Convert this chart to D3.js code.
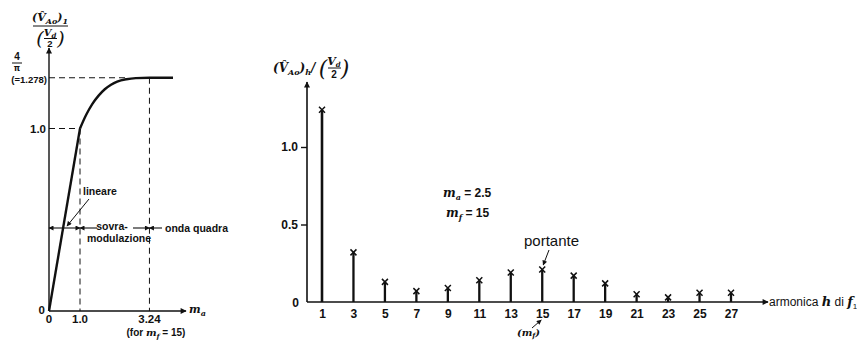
<!DOCTYPE html>
<html>
<head>
<meta charset="utf-8">
<script src="https://cdn.jsdelivr.net/npm/d3@7"></script>
<style>
  body { margin: 0; background: #fff; }
  text { fill: #111; }
  .num { font-family: "Liberation Sans", Arial, sans-serif; font-size: 11.5px; font-weight: bold; }
  .math { font-family: "DejaVu Serif", "Liberation Serif", serif; font-style: italic; font-weight: bold; }
  .lab { font-family: "Liberation Sans", Arial, sans-serif; font-size: 10.5px; font-weight: bold; }
</style>
</head>
<body>
<svg id="chart" width="857" height="340"></svg>
<script>
// left panel: fundamental vs modulation index
var maLinear = [0, 1.0];
var vLinear = [0, 1.0];
var maSat = [1.0, 1.2, 1.4, 1.6, 1.8, 2.0, 2.2, 2.5, 2.8, 3.24, 4.0];
var vSat = [1.0, 1.075, 1.135, 1.18, 1.215, 1.24, 1.257, 1.27, 1.276, 1.278, 1.278];
var maTicks = ["0", "1.0", "3.24"];
var maTickVals = [0, 1.0, 3.24];

// right panel: harmonic spectrum, ma = 2.5, mf = 15
var harmonics = [1, 3, 5, 7, 9, 11, 13, 15, 17, 19, 21, 23, 25, 27];
var amplitudes = [1.24, 0.32, 0.13, 0.07, 0.09, 0.14, 0.19, 0.21, 0.17, 0.12, 0.05, 0.03, 0.06, 0.06];
var yTicks = [0.5, 1.0];

var svg = d3.select("#chart");

var defs = svg.append("defs");
defs.append("marker").attr("id", "arr").attr("viewBox", "0 0 10 10")
  .attr("refX", 9).attr("refY", 5).attr("markerWidth", 7).attr("markerHeight", 6)
  .attr("orient", "auto-start-reverse").attr("markerUnits", "userSpaceOnUse")
  .append("path").attr("d", "M0,0 L10,5 L0,10 z").attr("fill", "#111");
defs.append("marker").attr("id", "arrs").attr("viewBox", "0 0 10 10")
  .attr("refX", 9).attr("refY", 5).attr("markerWidth", 6).attr("markerHeight", 5)
  .attr("orient", "auto-start-reverse").attr("markerUnits", "userSpaceOnUse")
  .append("path").attr("d", "M0,0 L10,5 L0,10 z").attr("fill", "#111");

// ---------- LEFT PANEL ----------
var xL = d3.scaleLinear().domain([0, 1]).range([49, 80]);
var yL = d3.scaleLinear().domain([0, 1]).range([311, 128.5]);
var L = svg.append("g");

// axes
L.append("line").attr("x1", xL(0)).attr("y1", yL(0)).attr("x2", xL(0)).attr("y2", 48)
  .attr("stroke", "#111").attr("stroke-width", 1.4).attr("marker-end", "url(#arr)");
L.append("line").attr("x1", xL(0)).attr("y1", yL(0)).attr("x2", 186).attr("y2", yL(0))
  .attr("stroke", "#111").attr("stroke-width", 1.4).attr("marker-end", "url(#arr)");

// dashed guides
var dash = function (x1, y1, x2, y2) {
  L.append("line").attr("x1", x1).attr("y1", y1).attr("x2", x2).attr("y2", y2)
    .attr("stroke", "#111").attr("stroke-width", 1).attr("stroke-dasharray", "6,4");
};
dash(xL(0), yL(1.0), xL(1.0), yL(1.0));
dash(xL(1.0), yL(1.0), xL(1.0), yL(0));
dash(xL(0), yL(1.278), xL(2.5), yL(1.278));
dash(xL(3.24), yL(1.278), xL(3.24), yL(0));

// curve
var lineL = d3.line().x(function (d) { return xL(d[0]); }).y(function (d) { return yL(d[1]); });
L.append("path").datum(d3.zip(maLinear, vLinear)).attr("d", lineL)
  .attr("fill", "none").attr("stroke", "#111").attr("stroke-width", 2.4);
L.append("path").datum(d3.zip(maSat, vSat)).attr("d", lineL.curve(d3.curveMonotoneX))
  .attr("fill", "none").attr("stroke", "#111").attr("stroke-width", 2.4);

// x tick labels
L.selectAll(".xt").data(maTickVals).enter().append("text").attr("class", "num")
  .attr("x", function (d) { return xL(d); }).attr("y", 323).attr("text-anchor", "middle")
  .text(function (d, i) { return maTicks[i]; });
L.append("text").attr("class", "num").attr("x", 45).attr("y", 314).attr("text-anchor", "end").text("0");
L.append("text").attr("class", "num").attr("x", 46).attr("y", yL(1.0) + 4).attr("text-anchor", "end").text("1.0");
L.append("text").attr("class", "num").attr("x", 47).attr("y", 83).attr("text-anchor", "end")
  .style("font-size", "9.5px").text("(=1.278)");
L.append("text").attr("class", "num").attr("x", 17).attr("y", 60).attr("text-anchor", "middle").style("font-size", "10px").text("4");
L.append("line").attr("x1", 12).attr("x2", 22).attr("y1", 63).attr("y2", 63).attr("stroke", "#111");
L.append("text").attr("x", 17).attr("y", 71).attr("text-anchor", "middle")
  .style("font-family", "DejaVu Sans, sans-serif").style("font-size", "8px").style("font-weight", "bold").text("π");
L.append("text").attr("class", "math").attr("x", 189).attr("y", 313).style("font-size", "11px")
  .html("m<tspan dy='3' font-size='8px'>a</tspan>");
var fm = L.append("text").attr("class", "num").attr("x", 156).attr("y", 336).attr("text-anchor", "middle").style("font-size", "10px");
fm.append("tspan").text("(for ");
fm.append("tspan").attr("class", "math").text("m");
fm.append("tspan").attr("class", "math").attr("dy", 3).style("font-size", "7px").text("f");
fm.append("tspan").attr("dy", -3).text(" = 15)");

// y label fraction
var yl = L.append("text").attr("class", "math").attr("x", 50).attr("y", 21).attr("text-anchor", "middle").style("font-size", "11px");
yl.append("tspan").text("(V\u0302");
yl.append("tspan").attr("dy", 3).style("font-size", "8px").text("Ao");
yl.append("tspan").attr("dy", -3).text(")");
yl.append("tspan").attr("dy", 3).style("font-size", "8px").text("1");
L.append("line").attr("x1", 33).attr("x2", 68).attr("y1", 26).attr("y2", 26).attr("stroke", "#111");
L.append("text").attr("class", "math").attr("x", 40).attr("y", 45).attr("text-anchor", "middle").style("font-size", "19px").style("font-weight", "normal").text("(");
L.append("text").attr("class", "math").attr("x", 61).attr("y", 45).attr("text-anchor", "middle").style("font-size", "19px").style("font-weight", "normal").text(")");
L.append("text").attr("class", "math").attr("x", 50).attr("y", 36).attr("text-anchor", "middle").style("font-size", "10px")
  .html("V<tspan dy='2' font-size='7px'>d</tspan>");
L.append("line").attr("x1", 44).attr("x2", 57).attr("y1", 38.5).attr("y2", 38.5).attr("stroke", "#111");
L.append("text").attr("class", "num").attr("x", 50).attr("y", 47).attr("text-anchor", "middle").style("font-size", "9.5px").text("2");

// region arrows
var ry = 228;
var seg = function (x1, x2, ms, me) {
  var l = L.append("line").attr("x1", x1).attr("x2", x2).attr("y1", ry).attr("y2", ry)
    .attr("stroke", "#111").attr("stroke-width", 1.1);
  if (ms) l.attr("marker-start", "url(#arrs)");
  if (me) l.attr("marker-end", "url(#arrs)");
};
seg(xL(0), xL(1.0), true, true);
seg(xL(1.0), 97, true, false);
seg(133, xL(3.24), false, true);
seg(xL(3.24), 162, true, false);
L.append("text").attr("class", "lab").attr("x", 112).attr("y", 230).attr("text-anchor", "middle").text("sovra-");
L.append("text").attr("class", "lab").attr("x", 119).attr("y", 242).attr("text-anchor", "middle").text("modulazione");
L.append("text").attr("class", "lab").attr("x", 165).attr("y", 232).text("onda quadra");
L.append("text").attr("class", "lab").attr("x", 83).attr("y", 195).text("lineare");
L.append("line").attr("x1", 89).attr("y1", 199).attr("x2", 67).attr("y2", 226)
  .attr("stroke", "#111").attr("stroke-width", 1).attr("marker-end", "url(#arrs)");

// ---------- RIGHT PANEL ----------
var xR = d3.scaleLinear().domain([1, 27]).range([322, 731]);
var yR = d3.scaleLinear().domain([0, 1]).range([302, 147]);
var R = svg.append("g");

R.append("line").attr("x1", 307).attr("y1", yR(0)).attr("x2", 307).attr("y2", 82)
  .attr("stroke", "#111").attr("stroke-width", 1.6).attr("marker-end", "url(#arr)");
R.append("line").attr("x1", 307).attr("y1", yR(0)).attr("x2", 768).attr("y2", yR(0))
  .attr("stroke", "#111").attr("stroke-width", 1.6).attr("marker-end", "url(#arr)");

var yAxis = R.append("g").attr("transform", "translate(307,0)")
  .call(d3.axisLeft(yR).tickValues(yTicks).tickSize(6).tickFormat(d3.format(".1f")));
yAxis.select(".domain").remove();
yAxis.selectAll("line").attr("stroke", "#111").attr("stroke-width", 1.4);
yAxis.selectAll("text").attr("class", "num").style("font-size", "12px").attr("fill", "#111");
R.append("text").attr("class", "num").attr("x", 299).attr("y", 307).attr("text-anchor", "end").style("font-size", "12px").text("0");

var xAxis = R.append("g").attr("transform", "translate(0," + yR(0) + ")")
  .call(d3.axisBottom(xR).tickValues(harmonics).tickSize(0).tickPadding(7));
xAxis.select(".domain").remove();
xAxis.selectAll("text").attr("class", "num").style("font-size", "12px").attr("fill", "#111");

// stems
R.selectAll(".stem").data(harmonics).enter().append("line").attr("class", "stem")
  .attr("x1", function (d) { return xR(d); }).attr("x2", function (d) { return xR(d); })
  .attr("y1", yR(0)).attr("y2", function (d, i) { return yR(amplitudes[i]); })
  .attr("stroke", "#111").attr("stroke-width", function (d, i) { return i === 0 ? 2.6 : 2.3; });
// x markers
R.selectAll(".mk").data(harmonics).enter().append("path").attr("class", "mk")
  .attr("transform", function (d, i) { return "translate(" + xR(d) + "," + yR(amplitudes[i]) + ")"; })
  .attr("d", "M-3,-3 L3,3 M3,-3 L-3,3").attr("stroke", "#111").attr("stroke-width", 1.5);

// labels
var ma = R.append("text").attr("class", "math").attr("x", 443).attr("y", 197).style("font-size", "12px");
ma.append("tspan").text("m");
ma.append("tspan").attr("dy", 3).style("font-size", "8px").text("a");
ma.append("tspan").attr("dy", -3).attr("class", "num").style("font-size", "12px").style("font-style", "normal").text(" = 2.5");
var mf = R.append("text").attr("class", "math").attr("x", 446).attr("y", 217).style("font-size", "12px");
mf.append("tspan").text("m");
mf.append("tspan").attr("dy", 3).style("font-size", "8px").text("f");
mf.append("tspan").attr("dy", -3).attr("class", "num").style("font-size", "12px").style("font-style", "normal").text(" = 15");

R.append("text").attr("x", 524).attr("y", 246).style("font-family", "Liberation Sans, Arial, sans-serif")
  .style("font-size", "15px").text("portante");
R.append("line").attr("x1", 549).attr("y1", 250).attr("x2", xR(15) + 1).attr("y2", 265)
  .attr("stroke", "#111").attr("stroke-width", 1).attr("marker-end", "url(#arrs)");

var mfl = R.append("text").attr("class", "math").attr("x", 517).attr("y", 336).style("font-size", "10px");
mfl.append("tspan").text("(m");
mfl.append("tspan").attr("dy", 2).style("font-size", "7px").text("f");
mfl.append("tspan").attr("dy", -2).text(")");
R.append("line").attr("x1", 532).attr("y1", 328).attr("x2", xR(15) - 1).attr("y2", 320)
  .attr("stroke", "#111").attr("stroke-width", 1).attr("marker-end", "url(#arrs)");

var ah = R.append("text").attr("x", 769).attr("y", 306).style("font-family", "Liberation Sans, Arial, sans-serif").style("font-size", "12px");
ah.append("tspan").text("armonica ");
ah.append("tspan").attr("class", "math").style("font-size", "13px").text("h");
ah.append("tspan").text(" di ");
ah.append("tspan").attr("class", "math").style("font-size", "13px").text("f");
ah.append("tspan").attr("dy", 3).style("font-size", "8px").text("1");

// right y label
var yr = R.append("text").attr("class", "math").attr("x", 273).attr("y", 72).style("font-size", "12px");
yr.append("tspan").text("(V\u0302");
yr.append("tspan").attr("dy", 3).style("font-size", "8px").text("Ao");
yr.append("tspan").attr("dy", -3).text(")");
yr.append("tspan").attr("dy", 3).style("font-size", "8px").text("h");
yr.append("tspan").attr("dy", -3).text("/");
R.append("text").attr("class", "math").attr("x", 323).attr("y", 76).attr("text-anchor", "middle").style("font-size", "22px").style("font-weight", "normal").text("(");
R.append("text").attr("class", "math").attr("x", 345).attr("y", 76).attr("text-anchor", "middle").style("font-size", "22px").style("font-weight", "normal").text(")");
R.append("text").attr("class", "math").attr("x", 334).attr("y", 65).attr("text-anchor", "middle").style("font-size", "11px")
  .html("V<tspan dy='2' font-size='7px'>d</tspan>");
R.append("line").attr("x1", 328).attr("x2", 341).attr("y1", 68).attr("y2", 68).attr("stroke", "#111");
R.append("text").attr("class", "num").attr("x", 334).attr("y", 78).attr("text-anchor", "middle").style("font-size", "10px").text("2");
</script>
</body>
</html>
